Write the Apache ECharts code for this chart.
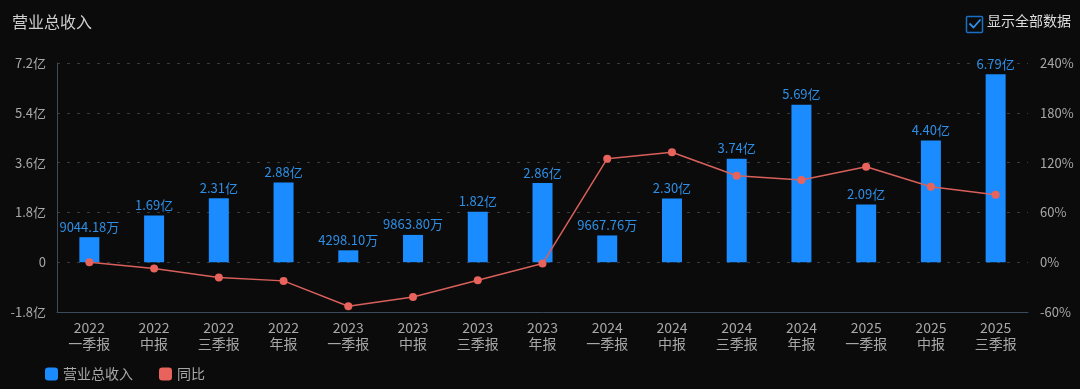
<!DOCTYPE html>
<html><head><meta charset="utf-8">
<script src="https://cdn.jsdelivr.net/npm/echarts@6/dist/echarts.min.js"></script>
<style>html,body{margin:0;padding:0;background:#0b0b0c;}#c{width:1080px;height:389px;}</style>
</head><body><div id="c"></div>
<script>
const categories = ['2022\n一季报','2022\n中报','2022\n三季报','2022\n年报','2023\n一季报','2023\n中报','2023\n三季报','2023\n年报','2024\n一季报','2024\n中报','2024\n三季报','2024\n年报','2025\n一季报','2025\n中报','2025\n三季报'];
const revenue = [0.904418, 1.69, 2.31, 2.88, 0.429810, 0.986380, 1.82, 2.86, 0.966776, 2.30, 3.74, 5.69, 2.09, 4.40, 6.79]; // 亿
const yoy = [0, -7.6, -18.5, -22.5, -53, -42, -21.7, -1.6, 124.7, 132.4, 104.2, 99, 115, 90.9, 81.3]; // %
const leftTicks = {min: -1.8, max: 7.2, interval: 1.8};
const rightTicks = {min: -60, max: 240, interval: 60};

const FONT = '"Noto Sans CJK SC", "Noto Sans", sans-serif';
const chart = echarts.init(document.getElementById('c'));
function fmtRev(v){ return v < 1 ? (v*10000).toFixed(2)+'万' : v.toFixed(2)+'亿'; }
chart.setOption({
  backgroundColor: '#0b0b0c',
  textStyle: {fontFamily: FONT},
  animation: false,
  title: {text: '营业总收入', left: 7, top: 9, textStyle: {color: '#cfcfcf', fontSize: 16, fontWeight: 'normal', fontFamily: FONT}},
  graphic: [
    {type: 'rect', left: 964, top: 14, shape: {width: 16, height: 16, r: 1}, style: {fill: 'none', stroke: '#1a6fc4', lineWidth: 1.5}},
    {type: 'polyline', left: 967, top: 17, shape: {points: [[0,5],[4,9],[11,1]]}, style: {fill: 'none', stroke: '#2e90ea', lineWidth: 1.8}},
    {type: 'text', left: 987, top: 14, style: {text: '显示全部数据', fill: '#dcdcdc', font: '14px ' + FONT}}
  ],
  legend: {
    left: 40, bottom: 3, itemWidth: 13, itemHeight: 13, itemGap: 26,
    textStyle: {color: '#a8a8a8', fontSize: 14, fontFamily: FONT},
    data: [{name: '营业总收入', icon: 'roundRect'}, {name: '同比', icon: 'roundRect'}]
  },
  grid: {left: 57, right: 52, top: 63, bottom: 77},
  xAxis: {
    type: 'category', data: categories,
    axisLine: {onZero: false, lineStyle: {color: '#3b4a5c'}},
    axisTick: {show: false},
    axisLabel: {color: '#a8a8a8', fontSize: 14, lineHeight: 16, margin: 8, interval: 0, fontFamily: FONT}
  },
  yAxis: [
    {type: 'value', min: leftTicks.min, max: leftTicks.max, interval: leftTicks.interval,
     axisLine: {show: true, lineStyle: {color: '#3b4a5c'}},
     axisLabel: {color: '#a8a8a8', fontSize: 13, margin: 11, fontFamily: FONT, formatter: v => Math.abs(v) < 1e-9 ? '0' : (+v.toFixed(1)).toFixed(1) + '亿'},
     splitLine: {lineStyle: {color: '#3a3a3a', type: [3, 7]}}},
    {type: 'value', min: rightTicks.min, max: rightTicks.max, interval: rightTicks.interval,
     axisLine: {show: false},
     axisLabel: {color: '#a8a8a8', fontSize: 13, margin: 12, fontFamily: FONT, formatter: '{value}%'},
     splitLine: {show: false}}
  ],
  series: [
    {name: '营业总收入', type: 'bar', data: revenue, barWidth: 20, yAxisIndex: 0,
     itemStyle: {color: '#1a8cff'},
     label: {show: true, position: 'top', color: '#2f8fe6', fontSize: 13, distance: 4, fontFamily: FONT, formatter: p => fmtRev(p.value)}},
    {name: '同比', type: 'line', data: yoy, yAxisIndex: 1, symbol: 'circle', symbolSize: 8,
     lineStyle: {color: '#d9605a', width: 1.5}, itemStyle: {color: '#e8635c'}}
  ]
});
</script></body></html>
